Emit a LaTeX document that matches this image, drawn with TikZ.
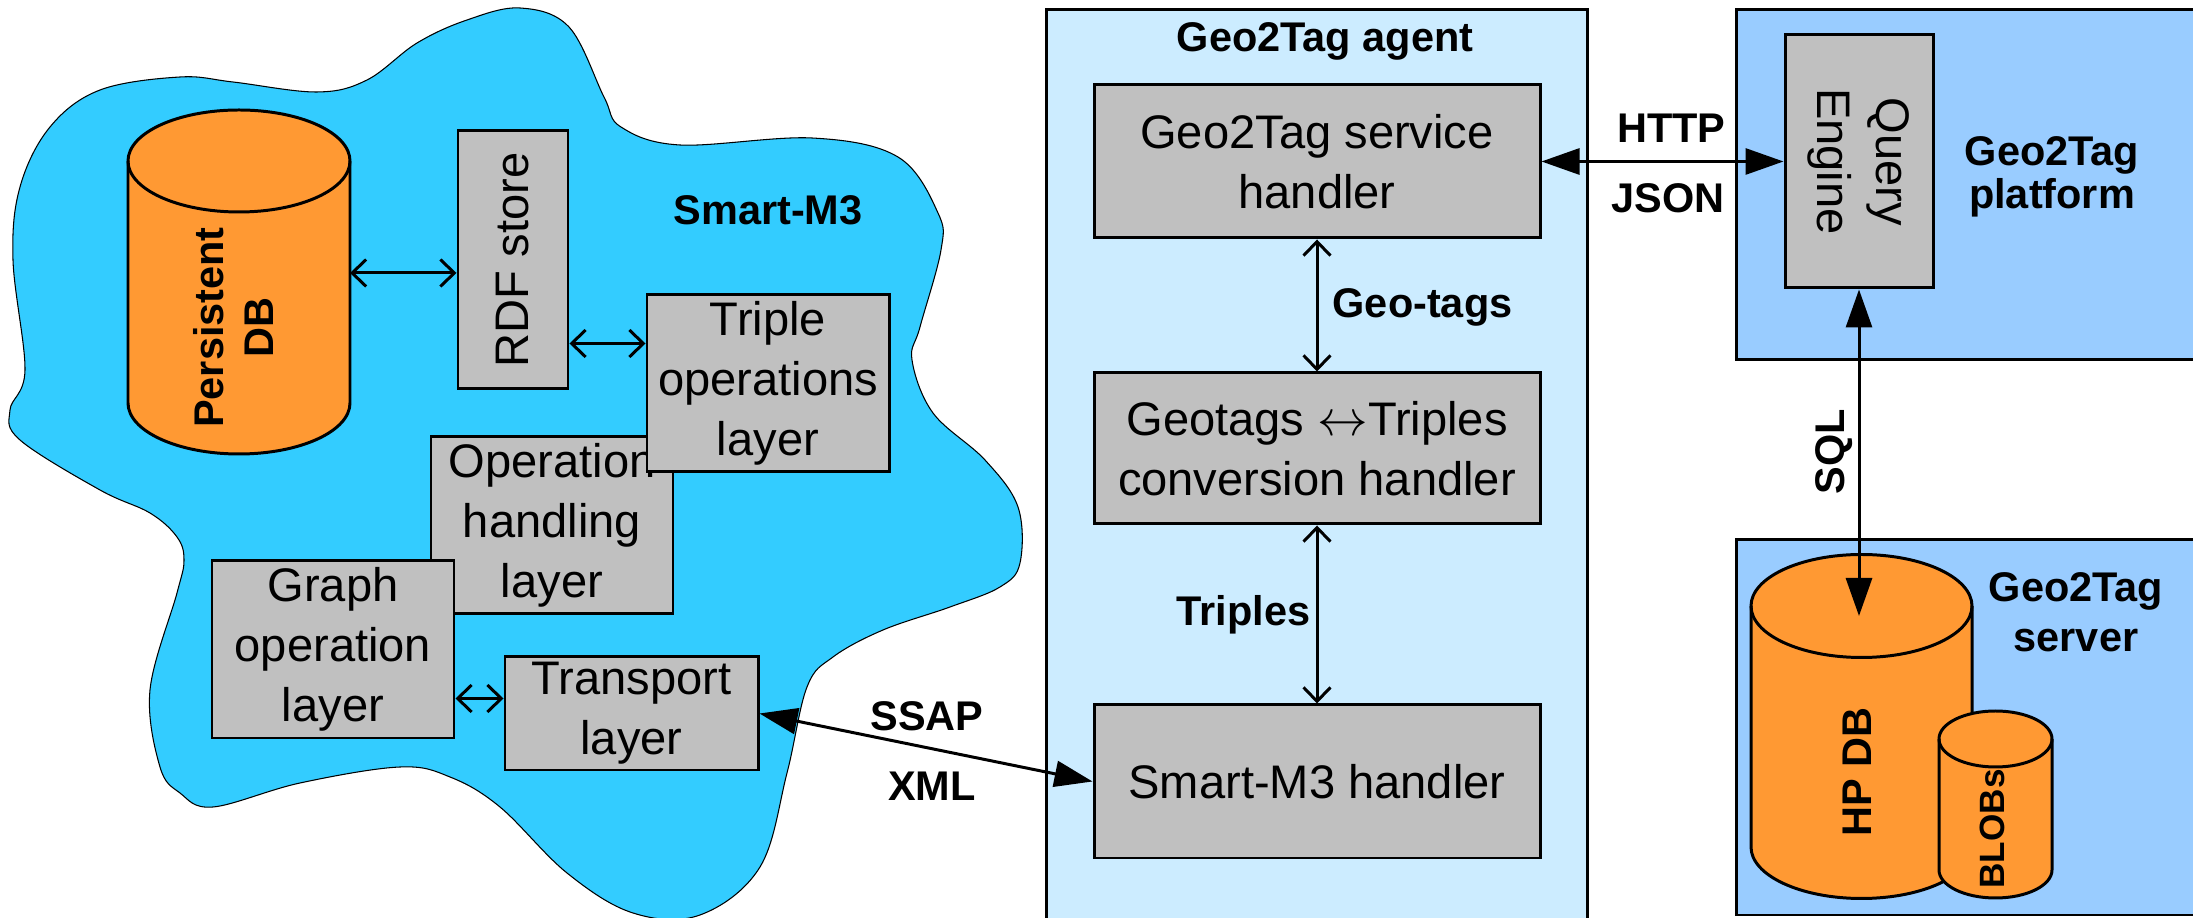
\documentclass[tikz,border=0pt]{standalone}
\usepackage{graphicx}
\usepackage{fontspec}
\setmainfont{Liberation Sans}
\usetikzlibrary{arrows.meta}
\definecolor{cloudblue}{HTML}{33CCFF}
\definecolor{agentblue}{HTML}{CCECFF}
\definecolor{platblue}{HTML}{99CCFF}
\definecolor{layergray}{HTML}{C0C0C0}
\definecolor{dborange}{HTML}{FF9933}

\begin{document}
\begin{tikzpicture}[
        layerbox/.style={draw, line width=0.85pt, fill=layergray, inner sep=0pt, align=center, font=\fontsize{13.4}{17}\selectfont},
        holder/.style={draw, line width=0.85pt, inner sep=0pt},
        boldlabel/.style={inner sep=0pt, align=center, font=\bfseries\fontsize{11.8}{14.2}\selectfont},
        dbshape/.style={draw, line width=0.85pt, fill=dborange},
        twobarb/.style={line width=0.85pt, {Straight Barb[length=1.4mm,width=2.7mm]}-{Straight Barb[length=1.4mm,width=2.7mm]}},
        twohead/.style={line width=0.85pt, {Triangle[length=3.8mm,width=2.6mm]}-{Triangle[length=3.8mm,width=2.6mm]}}]
        \useasboundingbox (0,0) rectangle (21.93,9.18);

        \draw [line width=0.3pt, fill=cloudblue] plot [smooth cycle, tension=0.6] coordinates {
            (0.25,5.48) (0.13,6.58) (0.20,7.31) (0.50,7.91) (1.00,8.28) (1.80,8.41) (2.33,8.36)
            (3.17,8.26) (3.67,8.38) (4.17,8.75) (4.67,8.98) (5.20,9.10) (5.69,8.91) (6.04,8.21)
            (6.21,7.91) (6.80,7.73) (8.12,7.80) (8.98,7.61) (9.38,7.05) (9.41,6.68) (9.20,5.91)
            (9.12,5.58) (9.33,5.05) (9.85,4.58) (10.18,4.11) (10.20,3.55) (10.00,3.31) (9.50,3.11)
            (8.83,2.88) (8.33,2.61) (8.07,2.31) (7.87,1.45) (7.60,0.51) (7.00,0.03) (6.33,0.05)
            (5.67,0.45) (5.00,1.11) (4.50,1.41) (4.00,1.51) (3.00,1.35) (2.13,1.11) (1.80,1.25)
            (1.60,1.51) (1.50,2.28) (1.77,3.25) (1.84,3.58) (1.77,3.81) (1.50,4.05) (1.00,4.28)
            (0.20,4.78) (0.10,5.08)};

        \draw [dbshape] (1.28,7.57) -- (1.28,5.15) arc [start angle=180, end angle=360, x radius=1.11, y radius=0.51]
            -- (3.50,7.57) arc [start angle=0, end angle=180, x radius=1.11, y radius=0.51] -- cycle;
        \draw [line width=0.85pt] (1.28,7.57) arc [start angle=180, end angle=360, x radius=1.11, y radius=0.51];
        \node [boldlabel, rotate=90] (pdb) at (2.335,5.905) {Persistent\\DB};
        \coordinate (pdbside) at (3.50,6.45);

        \node [layerbox, minimum width=1.10cm, minimum height=2.58cm] (rdf) at (5.13,6.58) {\rotatebox{90}{RDF store}};
        \node [layerbox, minimum width=2.42cm, minimum height=1.77cm] (opl) at (5.52,3.925) {Operation\\handling\\layer};
        \node [layerbox, minimum width=2.42cm, minimum height=1.77cm] (tol) at (7.68,5.345) {Triple\\operations\\layer};
        \node [layerbox, minimum width=2.42cm, minimum height=1.77cm] (gol) at (3.33,2.685) {Graph\\operation\\layer};
        \node [layerbox, minimum width=2.53cm, minimum height=1.13cm] (trl) at (6.315,2.045) {Transport\\layer};
        \node [boldlabel, anchor=base] (smlabel) at (7.68,6.93) {Smart-M3};

        \draw [twobarb] (pdbside) -- (pdbside -| rdf.west);
        \draw [twobarb] ([yshift=4mm]tol.west -| rdf.east) -- ([yshift=4mm]tol.west);
        \draw [twobarb] ([yshift=1.5mm]trl.west -| gol.east) -- ([yshift=1.5mm]trl.west);

        \node [holder, fill=agentblue, minimum width=5.41cm, minimum height=9.4cm] (agent) at (13.165,4.38) {};
        \node [boldlabel, anchor=base] (agenttitle) at (13.25,8.66) {Geo2Tag agent};
        \node [layerbox, minimum width=4.46cm, minimum height=1.53cm] (svc) at (13.17,7.565) {Geo2Tag service\\handler};
        \node [layerbox, minimum width=4.46cm, minimum height=1.51cm] (conv) at (13.17,4.695) {Geotags $\leftrightarrow$Triples\\conversion handler};
        \node [layerbox, minimum width=4.46cm, minimum height=1.53cm] (sm3) at (13.17,1.365) {Smart-M3 handler};
        \node [boldlabel, anchor=base west] (geotags) at (13.32,6.00) {Geo-tags};
        \node [boldlabel, anchor=base east] (triples) at (13.11,2.92) {Triples};

        \draw [twobarb] (svc) edge (conv);
        \draw [twobarb] (conv) edge (sm3);

        \node [holder, fill=platblue, minimum width=4.84cm, minimum height=3.50cm] (plat) at (19.78,7.33) {};
        \node [holder, fill=platblue, minimum width=4.84cm, minimum height=3.75cm] (srv) at (19.78,1.905) {};
        \node [layerbox, minimum width=1.48cm, minimum height=2.53cm] (qe) at (18.59,7.565)
            {\rotatebox{-90}{\begin{tabular}{@{}c@{}}Query\\Engine\end{tabular}}};
        \node [boldlabel, font=\bfseries\fontsize{11.8}{12.4}\selectfont] (platlabel) at (20.52,7.41) {Geo2Tag\\platform};
        \node [boldlabel] (srvlabel) at (20.76,3.06) {Geo2Tag\\server};

        \draw [dbshape] (17.51,3.12) -- (17.51,0.71) arc [start angle=180, end angle=360, x radius=1.105, y radius=0.515]
            -- (19.72,3.12) arc [start angle=0, end angle=180, x radius=1.105, y radius=0.515] -- cycle;
        \draw [line width=0.85pt] (17.51,3.12) arc [start angle=180, end angle=360, x radius=1.105, y radius=0.515];
        \node [boldlabel, rotate=90] (hpdb) at (18.57,1.46) {HP DB};
        \coordinate (hptop) at (18.59,3.02);

        \draw [dbshape] (19.39,1.79) -- (19.39,0.48) arc [start angle=180, end angle=360, x radius=0.565, y radius=0.28]
            -- (20.52,1.79) arc [start angle=0, end angle=180, x radius=0.565, y radius=0.28] -- cycle;
        \draw [line width=0.85pt] (19.39,1.79) arc [start angle=180, end angle=360, x radius=0.565, y radius=0.28];
        \node [boldlabel, rotate=90, font=\bfseries\fontsize{10}{12}\selectfont] (blobs) at (19.92,0.89) {BLOBs};

        \node [boldlabel, anchor=base] (http) at (16.715,7.75) {HTTP};
        \node [boldlabel, anchor=base] (json) at (16.68,7.05) {JSON};
        \node [boldlabel, rotate=90] (sql) at (18.34,4.66) {SQL};
        \node [boldlabel, anchor=base] (ssap) at (9.27,1.87) {SSAP};
        \node [boldlabel, anchor=base] (xml) at (9.32,1.17) {XML};

        \draw [twohead] (svc) edge (qe);
        \draw [twohead] (qe.south) -- (hptop);
        \draw [twohead] (trl.east) -- (sm3.west);
    \end{tikzpicture}
\end{document}
